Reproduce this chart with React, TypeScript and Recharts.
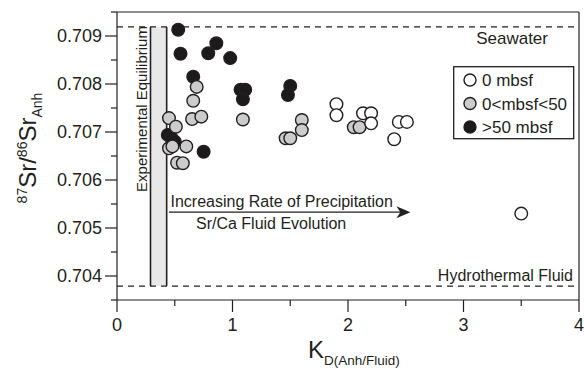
import { ScatterChart, Scatter, XAxis, YAxis, ReferenceLine, ReferenceArea, Legend } from "recharts"

// K_D values and 87Sr/86Sr for each depth group
const surfaceK = [1.9, 1.9, 2.13, 2.2, 2.2, 2.44, 2.51, 2.4, 3.5]
const surfaceSr = [0.70758, 0.70735, 0.70739, 0.70739, 0.70718, 0.70721, 0.70721, 0.70685, 0.7053]

const shallowK = [0.45, 0.51, 0.69, 0.66, 0.65, 0.73, 1.09, 0.45, 0.48, 0.6, 0.52, 0.57, 1.46, 1.5, 1.6, 1.6, 2.05, 2.1]
const shallowSr = [
  0.70729, 0.70711, 0.70794, 0.70765, 0.70727, 0.70732, 0.70726, 0.70666, 0.7067, 0.7067, 0.70636, 0.70635,
  0.70687, 0.70687, 0.70725, 0.70704, 0.7071, 0.7071,
]

const deepK = [0.53, 0.55, 0.86, 0.79, 0.98, 0.66, 1.07, 1.11, 1.09, 1.5, 1.48, 0.44, 0.47, 0.5, 0.75]
const deepSr = [
  0.70913, 0.70863, 0.70885, 0.70864, 0.70854, 0.70815, 0.70788, 0.70788, 0.70768, 0.70796, 0.70777, 0.70694,
  0.70688, 0.7068, 0.70659,
]

const xTicks = [0, 0.5, 1, 1.5, 2, 2.5, 3, 3.5, 4]
const yTicks = [0.7035, 0.704, 0.7045, 0.705, 0.7055, 0.706, 0.7065, 0.707, 0.7075, 0.708, 0.7085, 0.709, 0.7095]

const seawaterSr = 0.70919
const hydrothermalSr = 0.70379
const equilibriumK = [0.29, 0.43]
const arrowK = [0.45, 2.54]
const arrowSr = 0.70533

const INK = "#231f20"
const FONT = "'Liberation Sans', Arial, Helvetica, sans-serif"
const PLOT_LEFT = 117
const PLOT_BOTTOM = 300

const toPoints = (xs: number[], ys: number[]) => xs.map((x, i) => ({ x, y: ys[i] }))

const series = [
  { name: "0 mbsf", fill: "#ffffff", data: toPoints(surfaceK, surfaceSr) },
  { name: "0<mbsf<50", fill: "#cccccc", data: toPoints(shallowK, shallowSr) },
  { name: ">50 mbsf", fill: "#1c1a1b", data: toPoints(deepK, deepSr) },
]

const dot = (fill: string) => (p: any) => (
  <circle cx={p.cx} cy={p.cy} r={6.3} fill={fill} stroke={INK} strokeWidth={1.4} />
)

function YTick({ y, payload }: any) {
  const v = payload.value
  const major = Math.abs(v * 1000 - Math.round(v * 1000)) < 1e-6
  const len = major ? 12 : 6
  return (
    <g>
      <line x1={PLOT_LEFT - len} x2={PLOT_LEFT} y1={y} y2={y} stroke={INK} strokeWidth={1.2} />
      {major && (
        <text x={PLOT_LEFT - 15} y={y} dy="0.36em" textAnchor="end" fontSize={18} fontFamily={FONT} fill={INK}>
          {v.toFixed(3)}
        </text>
      )}
    </g>
  )
}

function XTick({ x, payload }: any) {
  const v = payload.value
  const major = Number.isInteger(v)
  const len = major ? 12 : 6
  return (
    <g>
      <line x1={x} x2={x} y1={PLOT_BOTTOM} y2={PLOT_BOTTOM + len} stroke={INK} strokeWidth={1.2} />
      {major && (
        <text x={x} y={PLOT_BOTTOM + 31} textAnchor="middle" fontSize={18} fontFamily={FONT} fill={INK}>
          {v}
        </text>
      )}
    </g>
  )
}

const YLabel = () => (
  <text transform="rotate(-90)" x={-148} y={36} textAnchor="middle" fontSize={24} fontFamily={FONT} fill={INK}>
    <tspan fontSize={14} dy={-9}>87</tspan>
    <tspan dy={9}>Sr/</tspan>
    <tspan fontSize={14} dy={-9}>86</tspan>
    <tspan dy={9}>Sr</tspan>
    <tspan fontSize={14} dy={6}>Anh</tspan>
  </text>
)

const XLabel = () => (
  <text x={308} y={358} fontSize={24} fontFamily={FONT} fill={INK}>
    K<tspan fontSize={13.5} dy={7}>D(Anh/Fluid)</tspan>
  </text>
)

const level = (text: string, dy: number, pad: number, size: number) => (p: any) => (
  <g>
    <line x1={p.x1} y1={p.y1} x2={p.x2} y2={p.y2} stroke={INK} strokeWidth={1.3} strokeDasharray="6 5" />
    <text x={p.x2 - pad} y={p.y1 + dy} textAnchor="end" fontSize={size} fontFamily={FONT} fill={INK}>
      {text}
    </text>
  </g>
)

const Band = (p: any) => (
  <g>
    <rect x={p.x} y={p.y} width={p.width} height={p.height} fill="#e8e8e8" />
    <text
      transform={`translate(${p.x - 3}, 109) rotate(-90)`}
      textAnchor="middle"
      fontSize={15}
      fontFamily={FONT}
      fill={INK}
    >
      Experimental Equilibrium
    </text>
  </g>
)

const Arrow = (p: any) => (
  <g>
    <line x1={p.x1} y1={p.y1} x2={p.x2 - 8} y2={p.y2} stroke={INK} strokeWidth={1.4} />
    <polygon
      points={`${p.x2},${p.y2} ${p.x2 - 14},${p.y2 - 6} ${p.x2 - 10},${p.y2} ${p.x2 - 14},${p.y2 + 6}`}
      fill={INK}
    />
    <text x={p.x1 + 1.5} y={p.y1 - 5.5} fontSize={16} fontFamily={FONT} fill={INK}>
      Increasing Rate of Precipitation
    </text>
    <text x={p.x1 + 27} y={p.y1 + 17} fontSize={16} fontFamily={FONT} fill={INK}>
      Sr/Ca Fluid Evolution
    </text>
  </g>
)

const LegendBox = () => (
  <svg width={122} height={74} style={{ display: "block" }}>
    <rect x={0.7} y={0.7} width={120} height={72} fill="#ffffff" stroke={INK} strokeWidth={1.3} />
    {series.map((s, i) => (
      <g key={s.name}>
        <circle cx={17} cy={14 + i * 23.5} r={6} fill={s.fill} stroke={INK} strokeWidth={1.4} />
        <text x={29} y={14 + i * 23.5} dy="0.36em" fontSize={17} fontFamily={FONT} fill={INK}>
          {s.name}
        </text>
      </g>
    ))}
  </svg>
)

export default function App() {
  return (
    <div style={{ position: "absolute", left: 0, top: 0, background: "#fff" }}>
      <ScatterChart width={584} height={369} margin={{ top: 12, right: 5, bottom: 0, left: 0 }}>
        <XAxis
          type="number"
          dataKey="x"
          domain={[0, 4]}
          ticks={xTicks}
          interval={0}
          allowDataOverflow
          height={69}
          tickLine={false}
          axisLine={{ stroke: INK, strokeWidth: 1.2 }}
          tick={<XTick />}
          label={<XLabel />}
        />
        <YAxis
          type="number"
          dataKey="y"
          domain={[0.7035, 0.7095]}
          ticks={yTicks}
          interval={0}
          allowDataOverflow
          width={117}
          tickLine={false}
          axisLine={{ stroke: INK, strokeWidth: 1.2 }}
          tick={<YTick />}
          label={<YLabel />}
        />
        <ReferenceArea
          x1={equilibriumK[0]}
          x2={equilibriumK[1]}
          y1={hydrothermalSr}
          y2={seawaterSr}
          shape={Band}
          ifOverflow="visible"
        />
        <ReferenceLine y={seawaterSr} shape={level("Seawater", 17, 31, 17)} ifOverflow="visible" />
        <ReferenceLine y={hydrothermalSr} shape={level("Hydrothermal Fluid", -5, 6, 16)} ifOverflow="visible" />
        {equilibriumK.map((k) => (
          <ReferenceLine
            key={k}
            segment={[
              { x: k, y: hydrothermalSr },
              { x: k, y: seawaterSr },
            ]}
            stroke={INK}
            strokeWidth={1.6}
            ifOverflow="visible"
          />
        ))}
        <ReferenceLine
          segment={[
            { x: arrowK[0], y: arrowSr },
            { x: arrowK[1], y: arrowSr },
          ]}
          shape={Arrow}
          ifOverflow="visible"
        />
        <ReferenceLine y={0.7095} stroke={INK} strokeWidth={1.2} ifOverflow="visible" />
        <ReferenceLine x={4} stroke={INK} strokeWidth={1.2} ifOverflow="visible" />
        {[...series].reverse().map((s) => (
          <Scatter key={s.name} name={s.name} data={s.data} fill={s.fill} shape={dot(s.fill)} isAnimationActive={false} />
        ))}
        <Legend
          layout="vertical"
          align="center"
          verticalAlign="middle"
          wrapperStyle={{ position: "absolute", left: 453, top: 66, width: 122, height: 74 }}
          content={() => <LegendBox />}
        />
      </ScatterChart>
    </div>
  )
}
